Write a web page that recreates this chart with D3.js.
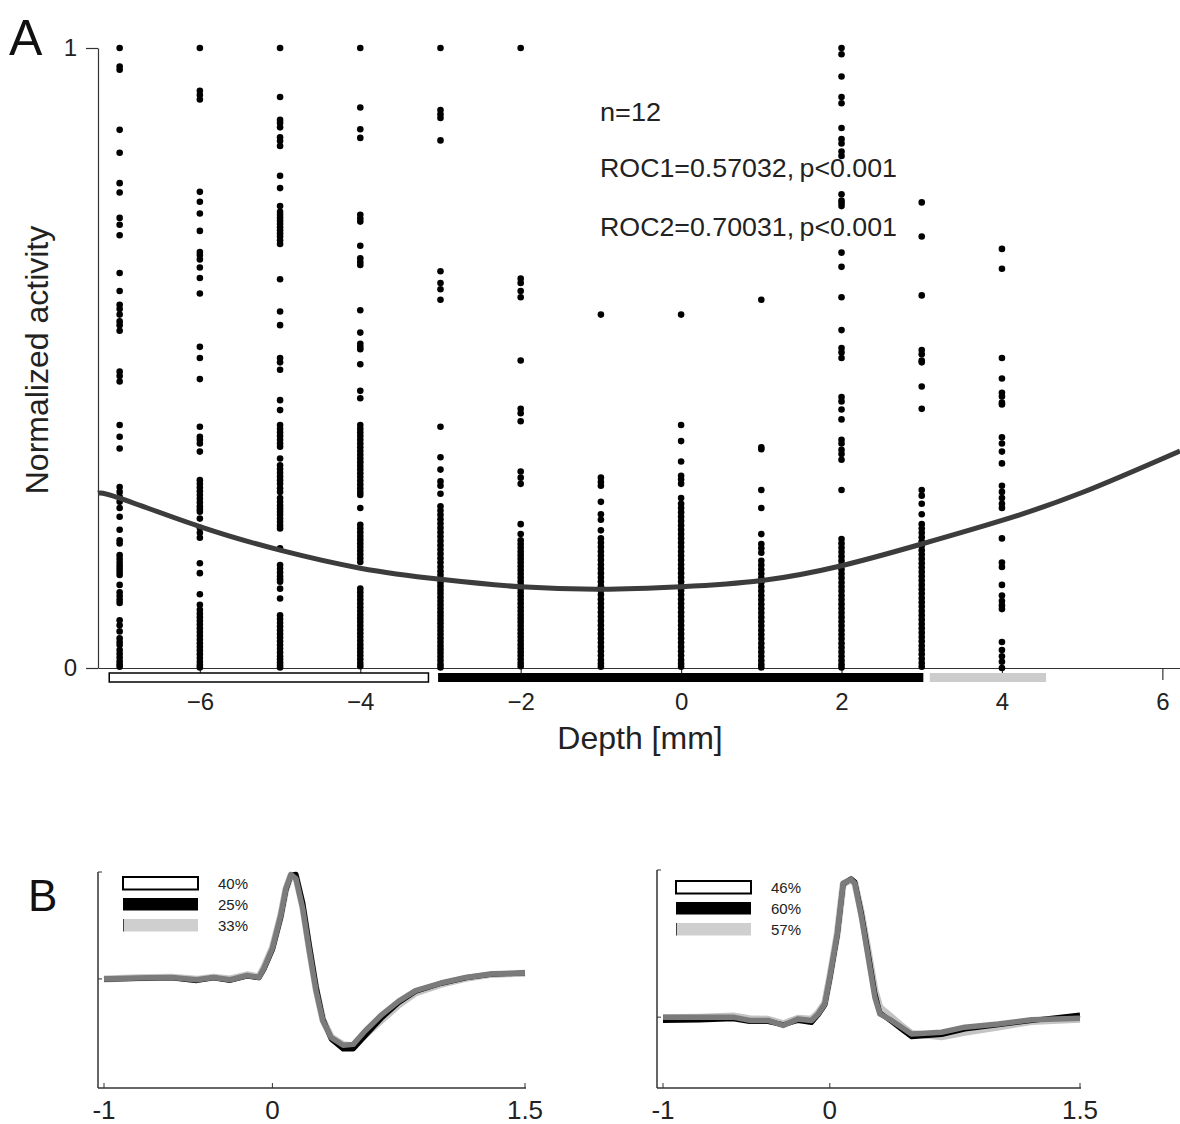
<!DOCTYPE html>
<html><head><meta charset="utf-8">
<script src="https://cdn.jsdelivr.net/npm/d3@7"></script>
<style>body{margin:0;background:#fff}text{font-family:"Liberation Sans",Arial,sans-serif}</style>
</head><body>
<svg id="c" width="1180" height="1124"></svg>
<script>
// ---------- Panel A data ----------
const depths = [-7,-6,-5,-4,-3,-2,-1,0,1,2,3,4];
const actM7 = [1.0,0.97,0.965,0.868,0.831,0.782,0.767,0.726,0.715,0.698,0.637,0.608,0.586,0.579,0.570,0.559,0.553,0.544,0.478,0.471,0.462,0.392,0.373,0.354,0.292,0.284,0.276,0.268,0.258,0.244,0.223,0.206,0.201,0.182,0.176,0.170,0.165,0.160,0.155,0.150,0.134,0.122,0.116,0.110,0.105,0.077,0.069,0.059,0.048,0.042,0.037,0.029,0.023,0.017,0.011,0.006,0.002];
const actM6 = [1.0,0.931,0.924,0.917,0.768,0.752,0.733,0.705,0.671,0.666,0.659,0.646,0.629,0.604,0.518,0.5,0.466,0.389,0.373,0.368,0.362,0.349,0.303,0.297,0.291,0.285,0.279,0.273,0.267,0.261,0.256,0.252,0.241,0.226,0.218,0.21,0.169,0.153,0.119,0.102,0.094,0.088,0.082,0.076,0.07,0.064,0.058,0.052,0.046,0.04,0.034,0.028,0.022,0.016,0.01,0.005,0.001];
const actM5 = [1.0,0.921,0.884,0.879,0.872,0.856,0.85,0.842,0.794,0.774,0.745,0.736,0.731,0.726,0.721,0.716,0.711,0.706,0.701,0.696,0.69,0.684,0.627,0.575,0.553,0.5,0.493,0.481,0.432,0.416,0.392,0.386,0.38,0.374,0.368,0.362,0.357,0.338,0.327,0.321,0.315,0.309,0.303,0.297,0.29,0.284,0.274,0.268,0.262,0.257,0.252,0.247,0.241,0.236,0.23,0.225,0.193,0.166,0.16,0.154,0.148,0.143,0.139,0.128,0.112,0.085,0.079,0.073,0.067,0.061,0.055,0.049,0.043,0.037,0.031,0.025,0.019,0.014,0.009,0.005,0.001];
const actM4 = [1.0,0.904,0.869,0.855,0.731,0.725,0.72,0.681,0.661,0.655,0.65,0.577,0.541,0.523,0.518,0.514,0.49,0.447,0.435,0.392,0.386,0.38,0.374,0.368,0.362,0.356,0.35,0.344,0.338,0.332,0.326,0.32,0.314,0.308,0.302,0.296,0.29,0.284,0.279,0.258,0.231,0.225,0.219,0.213,0.207,0.201,0.195,0.189,0.183,0.177,0.171,0.128,0.122,0.116,0.11,0.104,0.098,0.092,0.086,0.08,0.074,0.068,0.062,0.056,0.05,0.044,0.038,0.032,0.026,0.02,0.014,0.008,0.003];
const actM3 = [1.0,0.9,0.893,0.887,0.851,0.64,0.621,0.611,0.594,0.389,0.34,0.32,0.301,0.294,0.281,0.261,0.254,0.247,0.24,0.233,0.226,0.219,0.212,0.205,0.198,0.191,0.184,0.177,0.17,0.163,0.156,0.15,0.144,0.138,0.132,0.126,0.12,0.114,0.108,0.102,0.096,0.09,0.084,0.078,0.072,0.066,0.06,0.054,0.048,0.042,0.036,0.03,0.024,0.018,0.012,0.006,0.001];
const actM2 = [1.0,0.628,0.621,0.608,0.598,0.496,0.418,0.411,0.398,0.317,0.307,0.297,0.232,0.216,0.206,0.2,0.194,0.188,0.182,0.176,0.17,0.164,0.158,0.152,0.146,0.14,0.134,0.128,0.122,0.116,0.11,0.104,0.098,0.092,0.086,0.08,0.074,0.068,0.062,0.056,0.05,0.044,0.038,0.032,0.026,0.02,0.014,0.008,0.003];
const actM1 = [0.57,0.307,0.3,0.294,0.268,0.248,0.239,0.222,0.209,0.202,0.195,0.188,0.181,0.174,0.167,0.16,0.153,0.146,0.139,0.132,0.125,0.118,0.111,0.104,0.097,0.09,0.083,0.076,0.069,0.062,0.055,0.048,0.041,0.034,0.027,0.02,0.013,0.007,0.002];
const act0 = [0.57,0.392,0.366,0.333,0.31,0.304,0.297,0.274,0.265,0.258,0.251,0.244,0.237,0.23,0.223,0.216,0.209,0.202,0.195,0.188,0.181,0.174,0.167,0.16,0.153,0.146,0.139,0.132,0.125,0.118,0.111,0.104,0.097,0.09,0.083,0.076,0.069,0.062,0.055,0.048,0.041,0.034,0.027,0.02,0.013,0.007,0.002];
const actP1 = [0.594,0.356,0.353,0.287,0.258,0.216,0.2,0.193,0.186,0.173,0.166,0.159,0.152,0.145,0.138,0.131,0.124,0.117,0.11,0.103,0.096,0.089,0.082,0.075,0.068,0.061,0.054,0.047,0.04,0.033,0.026,0.019,0.012,0.006,0.001];
const actP2 = [1.0,0.99,0.954,0.921,0.911,0.871,0.853,0.846,0.833,0.826,0.764,0.754,0.75,0.745,0.67,0.647,0.598,0.545,0.516,0.509,0.5,0.437,0.43,0.417,0.401,0.368,0.362,0.352,0.345,0.336,0.287,0.208,0.201,0.194,0.187,0.18,0.173,0.166,0.159,0.152,0.145,0.138,0.131,0.124,0.117,0.11,0.103,0.096,0.089,0.082,0.075,0.068,0.061,0.054,0.047,0.04,0.033,0.026,0.019,0.012,0.006,0.001];
const actP3 = [0.751,0.696,0.601,0.513,0.506,0.496,0.493,0.454,0.418,0.287,0.278,0.265,0.248,0.232,0.225,0.218,0.211,0.204,0.197,0.19,0.183,0.176,0.169,0.162,0.155,0.148,0.141,0.134,0.127,0.12,0.113,0.106,0.099,0.092,0.085,0.078,0.071,0.064,0.057,0.05,0.043,0.036,0.029,0.022,0.015,0.008,0.002];
const actP4 = [0.676,0.644,0.5,0.467,0.444,0.438,0.428,0.425,0.372,0.362,0.349,0.33,0.294,0.284,0.274,0.265,0.258,0.209,0.17,0.163,0.134,0.117,0.108,0.101,0.095,0.042,0.029,0.019,0.01,0.0];
const activityColumns = [actM7,actM6,actM5,actM4,actM3,actM2,actM1,act0,actP1,actP2,actP3,actP4];

const fitDepth = [-7.27,-7,-6,-5,-4,-3,-2,-1,0,1,2,3,4,5,6.22];
const fitValue = [0.282,0.274,0.228,0.19,0.161,0.143,0.131,0.127,0.131,0.141,0.165,0.2,0.238,0.283,0.35];

const rangeBars = [
  {from:-7.13, to:-3.15, fill:"#ffffff", stroke:"#000"},
  {from:-3.03, to:3.02, fill:"#000000", stroke:"none"},
  {from:3.1, to:4.55, fill:"#cccccc", stroke:"none"}
];
const xTicksA = [-6,-4,-2,0,2,4,6];
const yTicksA = [0,1];
const statLines = ["n=12","ROC1=0.57032,\u2009p<0.001","ROC2=0.70031,\u2009p<0.001"];

// ---------- Panel B data ----------
const timeL = [-1,-0.8,-0.6,-0.45,-0.35,-0.25,-0.15,-0.08,-0.05,0,0.05,0.08,0.11,0.14,0.18,0.22,0.26,0.3,0.35,0.42,0.48,0.55,0.65,0.75,0.85,1.0,1.15,1.3,1.5];
const waveL_gray  = [0.505,0.509,0.512,0.501,0.512,0.501,0.521,0.512,0.555,0.647,0.801,0.923,0.988,0.969,0.831,0.632,0.448,0.31,0.233,0.198,0.202,0.264,0.34,0.402,0.451,0.486,0.512,0.528,0.532];
const waveL_black = [0.503,0.507,0.51,0.497,0.51,0.498,0.518,0.51,0.55,0.64,0.79,0.915,0.985,0.99,0.86,0.66,0.47,0.32,0.225,0.18,0.18,0.24,0.325,0.395,0.447,0.484,0.51,0.527,0.532];
const waveL_light = [0.505,0.51,0.513,0.503,0.513,0.505,0.524,0.515,0.56,0.65,0.8,0.92,0.985,0.975,0.84,0.64,0.455,0.315,0.235,0.2,0.195,0.245,0.315,0.385,0.44,0.48,0.508,0.526,0.531];
const timeR = [-1,-0.78,-0.58,-0.48,-0.37,-0.28,-0.19,-0.11,-0.07,-0.03,0,0.045,0.08,0.127,0.15,0.19,0.23,0.27,0.3,0.37,0.43,0.49,0.67,0.81,1.01,1.21,1.5];
const waveR_gray  = [0.325,0.325,0.325,0.31,0.31,0.287,0.317,0.31,0.34,0.386,0.509,0.709,0.939,0.957,0.939,0.785,0.601,0.417,0.34,0.31,0.279,0.248,0.256,0.279,0.294,0.313,0.32];
const waveR_black = [0.31,0.312,0.318,0.305,0.305,0.29,0.31,0.3,0.335,0.38,0.5,0.7,0.935,0.96,0.945,0.8,0.62,0.435,0.345,0.305,0.27,0.235,0.245,0.27,0.29,0.31,0.335];
const waveR_light = [0.322,0.325,0.33,0.318,0.315,0.295,0.32,0.315,0.345,0.39,0.51,0.71,0.935,0.955,0.94,0.8,0.63,0.45,0.37,0.325,0.285,0.25,0.235,0.255,0.28,0.305,0.315];
const legendL = ["40%","25%","33%"];
const legendR = ["46%","60%","57%"];
const xTicksB = [-1,0,1.5];
const xTickLabelsB = ["-1","0","1.5"];

// ---------- Drawing ----------
const svg = d3.select("#c");

// Panel A
const x = d3.scaleLinear().domain([-7.27,6.22]).range([98,1180]);
const y = d3.scaleLinear().domain([0,1]).range([668,48]);

svg.append("text").attr("x",9).attr("y",55).attr("font-size",50).attr("fill","#111").text("A");

const gx = svg.append("g").attr("transform","translate(0,668)")
  .call(d3.axisBottom(x).tickValues(xTicksA).tickSize(12).tickSizeOuter(0).tickPadding(13));
gx.selectAll("text").attr("font-size",24).attr("fill","#222").attr("font-family","Liberation Sans, Arial, sans-serif");
gx.selectAll("line,path").attr("stroke","#333").attr("stroke-width",1.2);

const gy = svg.append("g").attr("transform","translate(98,0)")
  .call(d3.axisLeft(y).tickValues(yTicksA).tickSize(12).tickSizeOuter(0).tickFormat(d3.format("d")).tickPadding(9));
gy.selectAll("text").attr("font-size",24).attr("fill","#222").attr("font-family","Liberation Sans, Arial, sans-serif");
gy.selectAll("line,path").attr("stroke","#333").attr("stroke-width",1.2);

svg.append("text").attr("x",640).attr("y",749).attr("text-anchor","middle").attr("font-size",32).attr("fill","#222").text("Depth [mm]");
svg.append("text").attr("transform","translate(48,360) rotate(-90)").attr("text-anchor","middle").attr("font-size",32).attr("fill","#222").text("Normalized activity");

// range bars
svg.append("g").selectAll("rect").data(rangeBars).join("rect")
  .attr("x",d=>x(d.from)).attr("width",d=>x(d.to)-x(d.from))
  .attr("y",673).attr("height",9)
  .attr("fill",d=>d.fill).attr("stroke",d=>d.stroke).attr("stroke-width",1.5);

// dots
const pts = [];
activityColumns.forEach((col,i)=>col.forEach(v=>pts.push({d:depths[i],v})));
svg.append("g").selectAll("circle").data(pts).join("circle")
  .attr("cx",p=>x(p.d)).attr("cy",p=>y(p.v)).attr("r",3.3).attr("fill","#000");

// fit curve
const fitPts = fitDepth.map((d,i)=>[d,fitValue[i]]);
svg.append("path").datum(fitPts)
  .attr("d",d3.line().x(p=>x(p[0])).y(p=>y(p[1])).curve(d3.curveNatural))
  .attr("fill","none").attr("stroke","#3c3c3c").attr("stroke-width",5);

// stats
statLines.forEach((t,i)=>{
  const tx = svg.append("text").attr("x",600).attr("y",[121,177,236][i]).attr("font-size",25).attr("fill","#222").text(t);
  tx.attr("textLength",[61,297,297][i]).attr("lengthAdjust","spacingAndGlyphs");
});

// Panel B
svg.append("text").attr("x",28).attr("y",911).attr("font-size",44).attr("fill","#111").text("B");

function panelB(opts){
  const xs = d3.scaleLinear().domain([-1,1.5]).range(opts.xr);
  const ys = d3.scaleLinear().domain([0,1]).range([1088,opts.top]);
  const g = svg.append("g");
  // axes
  g.append("line").attr("x1",opts.ax).attr("x2",opts.ax).attr("y1",opts.top).attr("y2",1088).attr("stroke","#333").attr("stroke-width",1.5);
  g.append("line").attr("x1",opts.ax).attr("x2",opts.xr[1]+1).attr("y1",1088).attr("y2",1088).attr("stroke","#333").attr("stroke-width",1.5);
  xTicksB.forEach((t,i)=>{
    g.append("line").attr("x1",xs(t)).attr("x2",xs(t)).attr("y1",1088).attr("y2",1083).attr("stroke","#333");
    g.append("text").attr("x",xs(t)).attr("y",1119).attr("text-anchor","middle").attr("font-size",26)
      .attr("font-family","Open Sans, sans-serif").attr("fill","#222").text(xTickLabelsB[i]);
  });
  [1,opts.base].forEach(v=>{
    g.append("line").attr("x1",opts.ax).attr("x2",opts.ax+4).attr("y1",ys(v)).attr("y2",ys(v)).attr("stroke","#333");
  });
  const line = d3.line().x((d,i)=>xs(opts.t[i])).y(d=>ys(d)).curve(d3.curveLinear);
  g.append("path").datum(opts.light).attr("d",line).attr("fill","none").attr("stroke","#c4c4c4").attr("stroke-width",7).attr("stroke-linejoin","round");
  g.append("path").datum(opts.black).attr("d",line).attr("fill","none").attr("stroke","#000").attr("stroke-width",5).attr("stroke-linejoin","round");
  g.append("path").datum(opts.gray).attr("d",line).attr("fill","none").attr("stroke","#7b7b7b").attr("stroke-width",5.5).attr("stroke-linejoin","round");
  // legend
  const lx = opts.lx, ly = opts.ly, w = 75, h = 12.5, gap = 21;
  g.append("rect").attr("x",lx).attr("y",ly).attr("width",w).attr("height",h).attr("fill","#fff").attr("stroke","#000").attr("stroke-width",2);
  g.append("rect").attr("x",lx).attr("y",ly+gap).attr("width",w).attr("height",h).attr("fill","#000");
  g.append("rect").attr("x",lx).attr("y",ly+2*gap).attr("width",w).attr("height",h).attr("fill","#cfcfcf");
  g.append("line").attr("x1",lx+0.5).attr("x2",lx+0.5).attr("y1",ly+2*gap).attr("y2",ly+2*gap+h).attr("stroke","#444");
  opts.labels.forEach((t,i)=>{
    g.append("text").attr("x",lx+w+20).attr("y",ly+i*gap+12).attr("font-size",15)
      .attr("font-family","Open Sans, sans-serif").attr("fill","#222").text(t);
  });
}
panelB({xr:[104,525],ax:98,top:872,base:0.505,t:timeL,gray:waveL_gray,black:waveL_black,light:waveL_light,lx:123,ly:877,labels:legendL});
panelB({xr:[663,1080],ax:657,top:870,base:0.325,t:timeR,gray:waveR_gray,black:waveR_black,light:waveR_light,lx:676,ly:881,labels:legendR});
</script>
</body></html>
